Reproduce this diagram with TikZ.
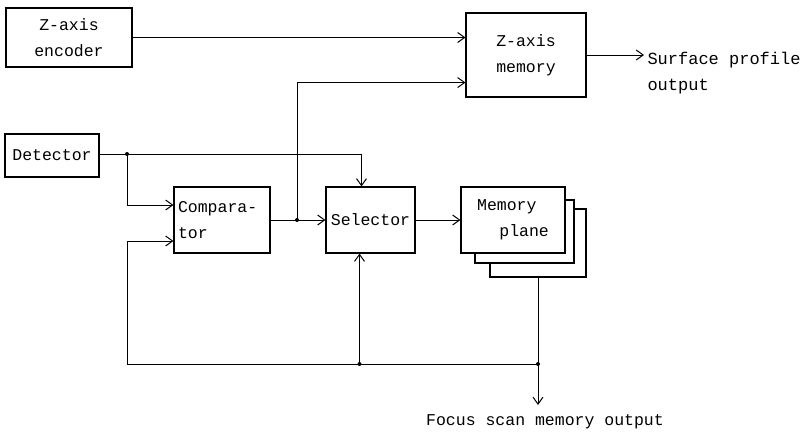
\documentclass[tikz,border=0pt]{standalone}
\usepackage{fontspec}
\setmonofont{Liberation Mono}
\usetikzlibrary{arrows.meta,positioning,calc}

\begin{document}
\begin{tikzpicture}[
  x=1pt, y=-1pt,
  font=\ttfamily\fontsize{16.5}{25.5}\selectfont,
  box/.style={draw, line width=1.1pt, fill=white, inner sep=3pt, align=center},
  arrow/.style={-{Straight Barb[length=7pt,width=10pt]}, line width=1pt},
  wire/.style={line width=1pt},
]
\useasboundingbox (0,0) rectangle (812,434);

% Top row: encoder and Z-axis memory
\node[box, minimum width=126pt, minimum height=59pt] (enc) at (69,37.5) {Z-axis\\encoder};
\node[box, minimum width=120pt, minimum height=84pt] (zmem) at (526,55) {Z-axis\\memory};
\node[anchor=west, align=left, font=\ttfamily\fontsize{17}{25.5}\selectfont] (sp) at (644,73) {Surface profile\\output};

% Middle row: detector, comparator, selector, memory planes
\node[box, minimum width=94pt, minimum height=43pt] (det) at (52,155.5) {Detector};
\node[box, minimum height=66pt, text width=88pt, inner sep=4pt, align=left] (comp) at (222,220)
  {Compara-\\tor};
\node[box, minimum width=89pt, minimum height=66pt] (sel) at (370.5,220) {Selector};
\node[box, minimum width=96pt, minimum height=68pt] (mem3) at (538,243) {};
\node[box, minimum width=99pt, minimum height=63pt] (mem2) at (524.5,231.5) {};
\node[box, minimum width=104pt, minimum height=66pt, align=left] (mem) at (513,220)
  {Memory\\\hspace*{1.35em}plane};

% Bottom label
\node (fs) at (545,422) {Focus scan memory output};

% Junctions
\coordinate (jd) at (127,154);
\coordinate (j1) at (297,220);
\coordinate (jm) at (mem3.south |- 0,364);
\coordinate (jb) at ([xshift=-11pt]sel.south |- jm);
\coordinate (zin) at ([yshift=15pt]zmem.south west);
\coordinate (fsout) at (mem3.south |- 0,405);

% Connections
\draw[arrow] (enc.east) -- (enc.east -| zmem.west);
\draw[arrow] (zmem.east) -- (zmem.east -| sp.west);
\draw[wire] (det.east |- jd) -- (jd);
\draw[arrow] (jd) -| ([xshift=-9pt]sel.north);
\draw[arrow] (jd) |- ([yshift=15pt]comp.west);
\draw[wire] (comp.east) -- (j1);
\draw[arrow] (j1) -- (sel.west);
\draw[arrow] (j1) |- (zin);
\draw[arrow] (sel.east) -- (mem.west);
\draw[arrow] (mem3.south) -- (fsout);
\draw[arrow] (jm) -- (jm -| jd) |- ([yshift=-21pt]comp.west);
\draw[arrow] (jb) -- ([xshift=-11pt]sel.south);

\foreach \j in {jd, j1, jm, jb}
  \fill (\j) circle[radius=2pt];
\end{tikzpicture}
\end{document}
